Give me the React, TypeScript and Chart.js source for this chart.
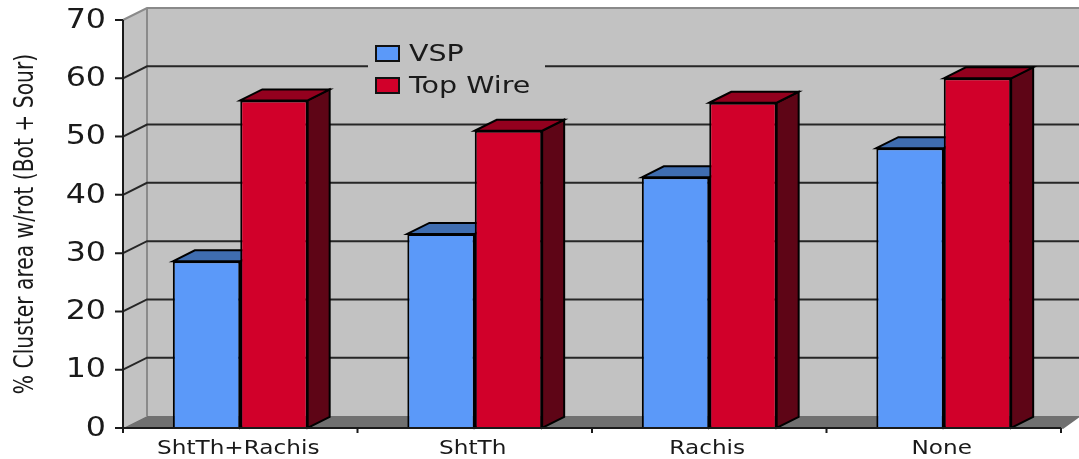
import React, { useEffect, useRef } from "react";
import { Chart, registerables } from "chart.js";

Chart.register(...registerables);

const categories = ["ShtTh+Rachis", "ShtTh", "Rachis", "None"];
const vsp = [28.6, 33.3, 43, 48];
const topWire = [56.2, 51, 55.8, 60];
const seriesNames = ["VSP", "Top Wire"];
const frontColors = ["#5B99F9", "#D1002A"];
const topColors = ["#3F6DB0", "#93001E"];
const sideColors = ["#2F5288", "#5E0516"];
const axisTitle = "% Cluster area w/rot (Bot + Sour)";
const FONT = '"DejaVu Sans"';
const DX = 24;
const DY = -12;
const WALL = "#C2C2C2";

function poly(ctx: CanvasRenderingContext2D, pts: number[][], fill: string, stroke: string, lw: number) {
  ctx.beginPath();
  pts.forEach((p, i) => (i ? ctx.lineTo(p[0], p[1]) : ctx.moveTo(p[0], p[1])));
  ctx.closePath();
  ctx.fillStyle = fill;
  ctx.fill();
  if (lw > 0) {
    ctx.strokeStyle = stroke;
    ctx.lineWidth = lw;
    ctx.stroke();
  }
}

function stretched(ctx: CanvasRenderingContext2D, text: string, x: number, y: number, size: number, sx: number, align: CanvasTextAlign) {
  ctx.save();
  ctx.translate(x, y);
  ctx.scale(sx, 1);
  ctx.font = `${size}px ${FONT}`;
  ctx.fillStyle = "#1a1a1a";
  ctx.textAlign = align;
  ctx.textBaseline = "middle";
  ctx.fillText(text, 0, 0);
  ctx.restore();
}

const scene = {
  id: "scene3d",
  beforeDatasetsDraw(chart: any) {
    const { ctx, chartArea: a, scales } = chart;
    const yS = scales.y;
    const W = chart.width;
    ctx.save();
    // back wall, side wall
    poly(ctx, [[a.left + DX, a.top + DY], [W + 2, a.top + DY], [W + 2, a.bottom + DY], [a.left + DX, a.bottom + DY]], WALL, WALL, 0);
    poly(ctx, [[a.left, a.top], [a.left + DX, a.top + DY], [a.left + DX, a.bottom + DY], [a.left, a.bottom]], WALL, WALL, 0);
    // floor
    poly(ctx, [[a.left, a.bottom], [a.left + DX, a.bottom + DY], [W + 2, a.bottom + DY], [a.right + 2, a.bottom + 1], [a.right, a.bottom]], "#707070", "#707070", 0);
    // top + back-left edges
    ctx.strokeStyle = "#8A8A8A";
    ctx.lineWidth = 2;
    ctx.beginPath();
    ctx.moveTo(a.left, a.top);
    ctx.lineTo(a.left + DX, a.top + DY);
    ctx.lineTo(W + 2, a.top + DY);
    ctx.moveTo(a.left + DX, a.top + DY);
    ctx.lineTo(a.left + DX, a.bottom + DY);
    ctx.stroke();
    // gridlines
    ctx.strokeStyle = "#262626";
    ctx.lineWidth = 2;
    yS.ticks.forEach((t: any) => {
      if (t.value === 0 || t.value === yS.max) return;
      const y = yS.getPixelForValue(t.value);
      ctx.beginPath();
      ctx.moveTo(a.left, y);
      ctx.lineTo(a.left + DX, y + DY);
      ctx.lineTo(W + 2, y + DY);
      ctx.stroke();
    });
    // legend backdrop
    ctx.fillStyle = WALL;
    ctx.fillRect(368, 40, 177, 60);
    // bar depth faces
    chart.data.datasets.forEach((_: any, i: number) => {
      chart.getDatasetMeta(i).data.forEach((b: any) => {
        const l = b.x - b.width / 2;
        const r = b.x + b.width / 2;
        const t = b.y;
        const d = b.base;
        poly(ctx, [[r, t], [r + DX - 2, t + DY + 1], [r + DX - 2, d + DY + 1], [r, d]], sideColors[i], "#000", 2);
        poly(ctx, [[l, t], [l + DX - 2, t + DY + 1], [r + DX - 2, t + DY + 1], [r, t]], topColors[i], "#000", 2);
      });
    });
    ctx.restore();
  },
  afterDraw(chart: any) {
    const { ctx, chartArea: a, scales } = chart;
    const yS = scales.y;
    const xS = scales.x;
    ctx.save();
    ctx.strokeStyle = "#1a1a1a";
    ctx.lineWidth = 2;
    ctx.beginPath();
    ctx.moveTo(a.left, a.top);
    ctx.lineTo(a.left, a.bottom + 5);
    ctx.moveTo(a.left - 8, a.bottom);
    ctx.lineTo(a.right, a.bottom);
    yS.ticks.forEach((t: any) => {
      const y = yS.getPixelForValue(t.value);
      ctx.moveTo(a.left - 8, y);
      ctx.lineTo(a.left, y);
    });
    const step = (a.right - a.left) / categories.length;
    for (let i = 1; i <= categories.length; i++) {
      ctx.moveTo(a.left + step * i, a.bottom);
      ctx.lineTo(a.left + step * i, a.bottom + 5);
    }
    ctx.stroke();
    yS.ticks.forEach((t: any) => {
      stretched(ctx, String(t.value), 106, yS.getPixelForValue(t.value) + 1, 26, 1.22, "right");
    });
    categories.forEach((c, i) => {
      stretched(ctx, c, xS.getPixelForValue(i) - 2, 449, 19, 1.22, "center");
    });
    // y title, rotated
    ctx.save();
    ctx.translate(26, 224);
    ctx.rotate(-Math.PI / 2);
    stretched(ctx, axisTitle, 0, 0, 26, 0.78, "center");
    ctx.restore();
    // legend
    const rows = [54, 86];
    chart.data.datasets.forEach((ds: any, i: number) => {
      ctx.fillStyle = frontColors[i];
      ctx.strokeStyle = "#111";
      ctx.lineWidth = 2;
      ctx.fillRect(376, rows[i] - 8, 23, 15);
      ctx.strokeRect(376, rows[i] - 8, 23, 15);
      stretched(ctx, ds.label, 409, rows[i] + 1, 23, 1.24, "left");
    });
    ctx.restore();
  },
};

export default function App() {
  const ref = useRef<HTMLCanvasElement>(null);
  useEffect(() => {
    const chart = new Chart(ref.current as HTMLCanvasElement, {
      type: "bar",
      data: {
        labels: categories,
        datasets: [
          { label: seriesNames[0], data: vsp, backgroundColor: frontColors[0], borderColor: "#000", borderWidth: 2 },
          { label: seriesNames[1], data: topWire, backgroundColor: frontColors[1], borderColor: "#000", borderWidth: 2 },
        ],
      },
      options: {
        animation: false,
        responsive: false,
        layout: { padding: { left: 123, right: 18, top: 20, bottom: 31 } },
        datasets: { bar: { barPercentage: 1, categoryPercentage: 0.575 } },
        plugins: { legend: { display: false }, tooltip: { enabled: false } },
        scales: {
          x: { grid: { display: false, drawTicks: false }, border: { display: false }, ticks: { display: false } },
          y: {
            min: 0,
            max: 70,
            grid: { display: false, drawTicks: false },
            border: { display: false },
            ticks: { display: false, stepSize: 10 },
          },
        },
      },
      plugins: [scene],
    } as any);
    return () => chart.destroy();
  }, []);
  return (
    <canvas
      ref={ref}
      width={1079}
      height={459}
      style={{ position: "absolute", left: 0, top: 0, display: "block" }}
    />
  );
}
